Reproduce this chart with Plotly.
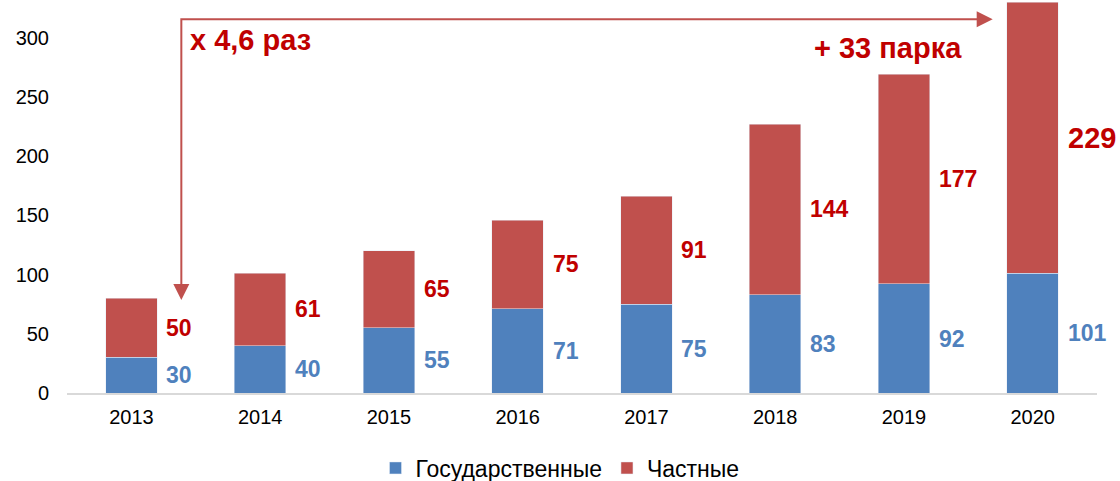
import plotly.graph_objects as go

years = ["2013", "2014", "2015", "2016", "2017", "2018", "2019", "2020"]
state = [30, 40, 55, 71, 75, 83, 92, 101]
private = [50, 61, 65, 75, 91, 144, 177, 229]
y_ticks = [0, 50, 100, 150, 200, 250, 300]

BLUE = "#4F81BD"
RED = "#C0504D"
DARK_RED = "#C00000"
FONT = "Liberation Sans, Arial, sans-serif"

fig = go.Figure()
fig.add_trace(go.Bar(x=years, y=state, name="Государственные", marker_color=BLUE))
fig.add_trace(go.Bar(x=years, y=private, name="Частные", marker_color=RED))

annotations = []
for i, yr in enumerate(years):
    annotations.append(dict(x=i, y=state[i] / 2, text=f"<b>{state[i]}</b>", showarrow=False,
                            xanchor="left", xshift=33, font=dict(size=23, color=BLUE, family=FONT)))
    big = i == len(years) - 1
    annotations.append(dict(x=i, y=state[i] + private[i] / 2, text=f"<b>{private[i]}</b>", showarrow=False,
                            xanchor="left", xshift=33, font=dict(size=29 if big else 23, color=DARK_RED, family=FONT)))

# elbow arrow: from 2013 up, across, to 2020
x_left = 0.388
x_right = 6.69
y_top = 315.5
y_low = 78.5
fig.add_shape(type="path", xref="x", yref="y",
              path=f"M {x_left} {y_low + 8} L {x_left} {y_top} L {x_right - 0.08} {y_top}",
              line=dict(color=RED, width=2))
annotations.append(dict(x=x_left, y=y_low, ax=x_left, ay=y_low + 14, xref="x", yref="y", axref="x", ayref="y",
                        text="", showarrow=True, arrowhead=2, arrowsize=1.6, arrowwidth=2, arrowcolor=RED))
annotations.append(dict(x=x_right, y=y_top, ax=x_right - 0.13, ay=y_top, xref="x", yref="y", axref="x", ayref="y",
                        text="", showarrow=True, arrowhead=2, arrowsize=1.6, arrowwidth=2, arrowcolor=RED))
annotations.append(dict(x=0.443, y=298, xref="x", yref="y", text="<b>x 4,6 раз</b>", showarrow=False,
                        xanchor="left", yanchor="middle", font=dict(size=29, color=DARK_RED, family=FONT)))
annotations.append(dict(x=5.29, y=291, xref="x", yref="y", text="<b>+ 33 парка</b>", showarrow=False,
                        xanchor="left", yanchor="middle", font=dict(size=29, color=DARK_RED, family=FONT)))

fig.update_layout(
    barmode="stack",
    bargap=0.6,
    width=1120, height=481,
    margin=dict(l=67, r=23, t=2, b=88),
    plot_bgcolor="white", paper_bgcolor="white",
    font=dict(family=FONT, size=20, color="black"),
    annotations=annotations,
    showlegend=True,
    legend=dict(orientation="h", x=0.5, xref="container", xanchor="center",
                y=(481 - 468) / 481, yref="container", yanchor="middle", traceorder="normal",
                font=dict(size=23, color="black"), itemwidth=30),
    xaxis=dict(type="category", range=[-0.5, len(years) - 0.5], autorange=False,
               showline=True, linecolor="#D9D9D9", linewidth=2, ticks="", showgrid=False,
               tickfont=dict(size=20), ticklabelstandoff=5),
    yaxis=dict(range=[0, 330], autorange=False, tickvals=y_ticks, showgrid=False, zeroline=False, showline=False,
               tickfont=dict(size=20), ticklabelstandoff=17),
)

fig.write_html("out.html", config={"displayModeBar": False},
               post_script="document.body.style.margin='0';")
